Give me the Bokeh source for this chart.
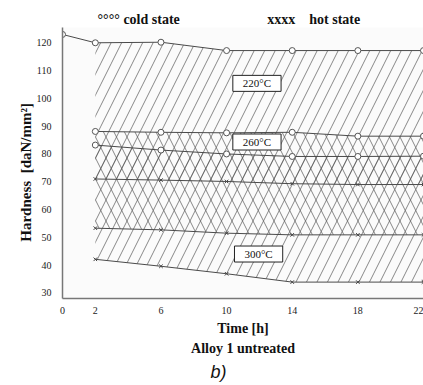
from bokeh.plotting import figure
from bokeh.models import Range1d, FixedTicker, Label, Title
from bokeh.embed import file_html
from bokeh.resources import INLINE

# Ageing time [h]
time_220 = [0, 2, 6, 10, 14, 18, 22]
time_pts = [2, 6, 10, 14, 18, 22]

# Hardness [daN/mm²], cold state (circles)
cold_220 = [123.0, 120.0, 120.2, 117.2, 117.2, 117.2, 117.2]
cold_260 = [88.1, 87.8, 87.6, 87.8, 86.4, 86.4]
cold_300 = [83.2, 81.4, 80.0, 79.1, 79.1, 79.2]

# Hardness [daN/mm²], hot state (crosses)
hot_220 = [71.0, 70.6, 70.1, 69.3, 69.0, 69.0]
hot_260 = [53.3, 52.7, 51.5, 50.9, 50.9, 50.9]
hot_300 = [42.1, 39.6, 36.9, 33.9, 33.9, 33.9]

x_ticks = [0, 2, 6, 10, 14, 18, 22]
y_ticks = [30, 40, 50, 60, 70, 80, 90, 100, 110, 120]

SERIF = "Liberation Serif"
NBSP = "\u00a0"

p = figure(width=423, height=385, output_backend="svg", toolbar_location=None,
           x_range=Range1d(0, 22), y_range=Range1d(28, 125.5),
           min_border_left=62, min_border_right=0, min_border_top=27,
           min_border_bottom=87)
p.outline_line_color = None
p.xgrid.visible = False
p.ygrid.visible = False
p.background_fill_color = "#fbfbfb"

for ax in (p.xaxis[0], p.yaxis[0]):
    ax.axis_line_color = "#777777"
    ax.axis_line_width = 1.5
    ax.major_tick_line_color = None
    ax.minor_tick_line_color = None
    ax.major_label_text_font = SERIF
    ax.major_label_text_font_size = "10px"
    ax.major_label_text_color = "#222222"

p.xaxis.ticker = FixedTicker(ticks=x_ticks)
p.yaxis.ticker = FixedTicker(ticks=y_ticks)
p.xaxis.major_label_standoff = 2
p.yaxis.major_label_standoff = 5
p.yaxis.axis_label = "Hardness" + NBSP * 2 + "[daN/mm²]" + NBSP * 5
p.yaxis.axis_label_text_font = SERIF
p.yaxis.axis_label_text_font_size = "15px"
p.yaxis.axis_label_text_font_style = "bold"
p.yaxis.axis_label_text_color = "#111111"
p.yaxis.axis_label_standoff = 0

# Hatched bands between the cold-state and hot-state curves
hatch = dict(fill_color=None, hatch_color="#555555", hatch_weight=0.7, hatch_scale=21)
p.varea(x=time_pts, y1=hot_220, y2=cold_220[1:], hatch_pattern="/", **hatch)
p.varea(x=time_pts, y1=hot_260, y2=cold_260, hatch_pattern="\\", **hatch)
p.varea(x=time_pts, y1=hot_300, y2=cold_300, hatch_pattern="/", **hatch)

# Curves
line_kw = dict(line_color="#4a4a4a", line_width=1)
p.line(time_220, cold_220, **line_kw)
for ys in (cold_260, cold_300, hot_220, hot_260, hot_300):
    p.line(time_pts, ys, **line_kw)

circ = dict(size=6, line_color="#555555", fill_color="white", line_width=1)
p.scatter(time_220, cold_220, marker="circle", **circ)
p.scatter(time_pts, cold_260, marker="circle", **circ)
p.scatter(time_pts, cold_300, marker="circle", **circ)
for ys in (hot_220, hot_260, hot_300):
    p.scatter(time_pts, ys, marker="x", size=5, line_color="#444444", line_width=1)

# Temperature tags
for txt, tx, ty in (("220°C", 11.85, 105.4), ("260°C", 11.85, 84.3), ("300°C", 11.95, 44.0)):
    p.add_layout(Label(x=tx, y=ty, text=txt, text_align="center", text_baseline="middle",
                       text_font=SERIF, text_font_size="11px", text_color="#111111",
                       border_line_color="#222222", border_line_width=1,
                       background_fill_color="white", padding=(10, 2)))

# Key above the plot
key = "°°°°" + NBSP + "cold state" + NBSP * 25 + "xxxx" + NBSP * 4 + "hot state"
p.add_layout(Title(text=key, align="left", offset=35, standoff=2,
                   text_font=SERIF, text_font_size="14px", text_font_style="bold",
                   text_color="#111111"), "above")

# Captions below the plot
cap = dict(text_font=SERIF, text_font_size="14px", text_font_style="bold",
           text_color="#111111", align="center")
p.add_layout(Title(text="Time [h]", standoff=5, **cap), "below")
p.add_layout(Title(text="Alloy 1 untreated", standoff=1, **cap), "below")
p.add_layout(Title(text="b)", align="left", offset=148, standoff=6,
                   text_font="Liberation Sans", text_font_size="18px",
                   text_font_style="italic", text_color="#111111"), "below")

open("out.html", "w").write(file_html(p, INLINE))
